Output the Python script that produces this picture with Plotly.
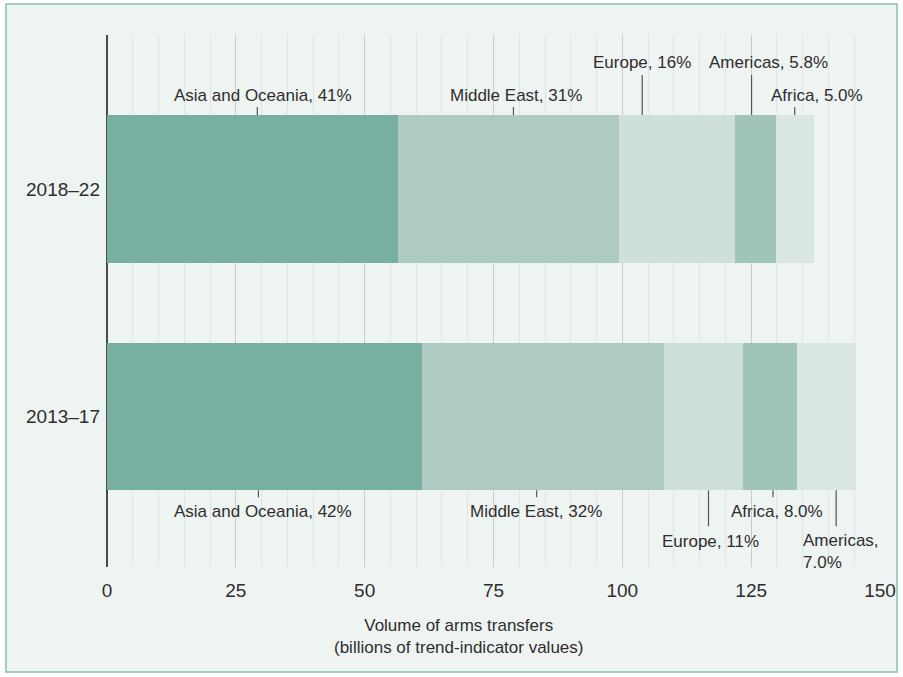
import plotly.graph_objects as go

# ---------------- data ----------------
periods = ["2018–22", "2013–17"]

regions_2018 = ["Asia and Oceania", "Middle East", "Europe", "Americas", "Africa"]
values_2018 = [56.4, 43.0, 22.5, 7.9, 7.3]
shares_2018 = ["41%", "31%", "16%", "5.8%", "5.0%"]

regions_2013 = ["Asia and Oceania", "Middle East", "Europe", "Africa", "Americas"]
values_2013 = [61.1, 46.9, 15.5, 10.3, 11.5]
shares_2013 = ["42%", "32%", "11%", "8.0%", "7.0%"]

x_ticks = [0, 25, 50, 75, 100, 125, 150]
axis_title = "Volume of arms transfers<br>(billions of trend-indicator values)"

# ---------------- styles ----------------
seg_colors = ["#77b0a1", "#aecbc3", "#cfe0db", "#a1c4b8", "#dae6e2"]
BG = "#eef4f2"
TEXT = "#2e2e2e"
FONT = "Liberation Sans"
BAR_W = 0.65

fig = go.Figure()
for i in range(5):
    fig.add_trace(go.Bar(
        y=periods,
        x=[values_2018[i], values_2013[i]],
        orientation="h",
        width=BAR_W,
        marker=dict(color=seg_colors[i], line=dict(width=0)),
        showlegend=False,
        hoverinfo="skip",
    ))

# label layout: (row, pointer px shift, text px shift, wrap)
top_cfg = [(2, 5, 11, False), (2, 5, 8, False), (1, -35, -35, False), (1, -4, 13, False), (2, 0, 22, False)]
bot_cfg = [(1, -6, -1, False), (1, -6, -7, False), (2, 5, 7, False), (1, 3, 7, False), (2, 10, 15, True)]

shapes = []
annotations = []


def add_labels(cat_index, values, regions, shares, cfg, above):
    edge = cat_index + (BAR_W / 2 if above else -BAR_W / 2)
    cum = 0.0
    for v, reg, sh, (row, pshift, tshift, wrap) in zip(values, regions, shares, cfg):
        mid = cum + v / 2
        cum += v
        if above:
            plen = 8 if row == 2 else 40
            tys = 20 if row == 2 else 53
        else:
            plen = -7 if row == 1 else -36
            tys = -21 if row == 1 else -51
        shapes.append(dict(
            type="line", xref="x", yref="y",
            xsizemode="pixel", xanchor=mid, x0=pshift, x1=pshift,
            ysizemode="pixel", yanchor=edge, y0=0, y1=plen,
            line=dict(color="#555555", width=1.2),
        ))
        txt = f"{reg}, {sh}"
        if wrap:
            txt = f"{reg},<br>{sh}"
            tys -= 10
        annotations.append(dict(
            x=mid, y=edge, xref="x", yref="y",
            text=txt, showarrow=False,
            xanchor="center", yanchor="middle",
            xshift=tshift, yshift=tys,
            align="left",
            font=dict(family=FONT, size=17, color=TEXT),
        ))


# category index: 2013–17 -> 0, 2018–22 -> 1
add_labels(1, values_2018, regions_2018, shares_2018, top_cfg, True)
add_labels(0, values_2013, regions_2013, shares_2013, bot_cfg, False)

# outer border panel
L, R, T, B = 107, 880, 35, 567
W, H = R - L, B - T
shapes.insert(0, dict(
    type="rect", xref="paper", yref="paper", layer="below",
    x0=(6 - L) / W, x1=(897 - L) / W,
    y0=(B - 672) / H, y1=(B - 4) / H,
    fillcolor=BG, line=dict(color="#86c1ad", width=1.5),
))

annotations.append(dict(
    x=(458 - L) / W, y=(B - 636) / H, xref="paper", yref="paper",
    text=axis_title, showarrow=False, xanchor="center", yanchor="middle",
    font=dict(family=FONT, size=17, color=TEXT),
))

fig.update_layout(
    width=903, height=677,
    autosize=False,
    margin=dict(l=L, r=903 - R, t=T, b=677 - B, pad=0, autoexpand=False),
    paper_bgcolor="white",
    plot_bgcolor="rgba(0,0,0,0)",
    barmode="stack",
    bargap=0,
    font=dict(family=FONT, size=19, color=TEXT),
    shapes=shapes,
    annotations=annotations,
    xaxis=dict(
        range=[0, 150],
        tickvals=x_ticks,
        ticktext=[str(t) for t in x_ticks],
        showgrid=True, gridcolor="#c9cecc", gridwidth=1.3,
        minor=dict(dtick=5, tick0=0, showgrid=True, gridcolor="#dfe5e2", gridwidth=1),
        zeroline=True, zerolinecolor="#4a4a4a", zerolinewidth=2,
        showline=False, ticks="",
        ticklabelstandoff=10,
        automargin=False,
        tickfont=dict(family=FONT, size=19, color=TEXT),
        fixedrange=True,
    ),
    yaxis=dict(
        type="category",
        categoryarray=["2013–17", "2018–22"],
        categoryorder="array",
        range=[-0.662, 1.677],
        showgrid=False, zeroline=False, showline=False, ticks="",
        ticklabelstandoff=6,
        automargin=False,
        tickfont=dict(family=FONT, size=19, color=TEXT),
        fixedrange=True,
    ),
)

fig.write_html(
    "out.html",
    config={"displayModeBar": False, "responsive": False},
    post_script="document.body.style.margin='0';document.body.style.overflow='hidden';",
)
